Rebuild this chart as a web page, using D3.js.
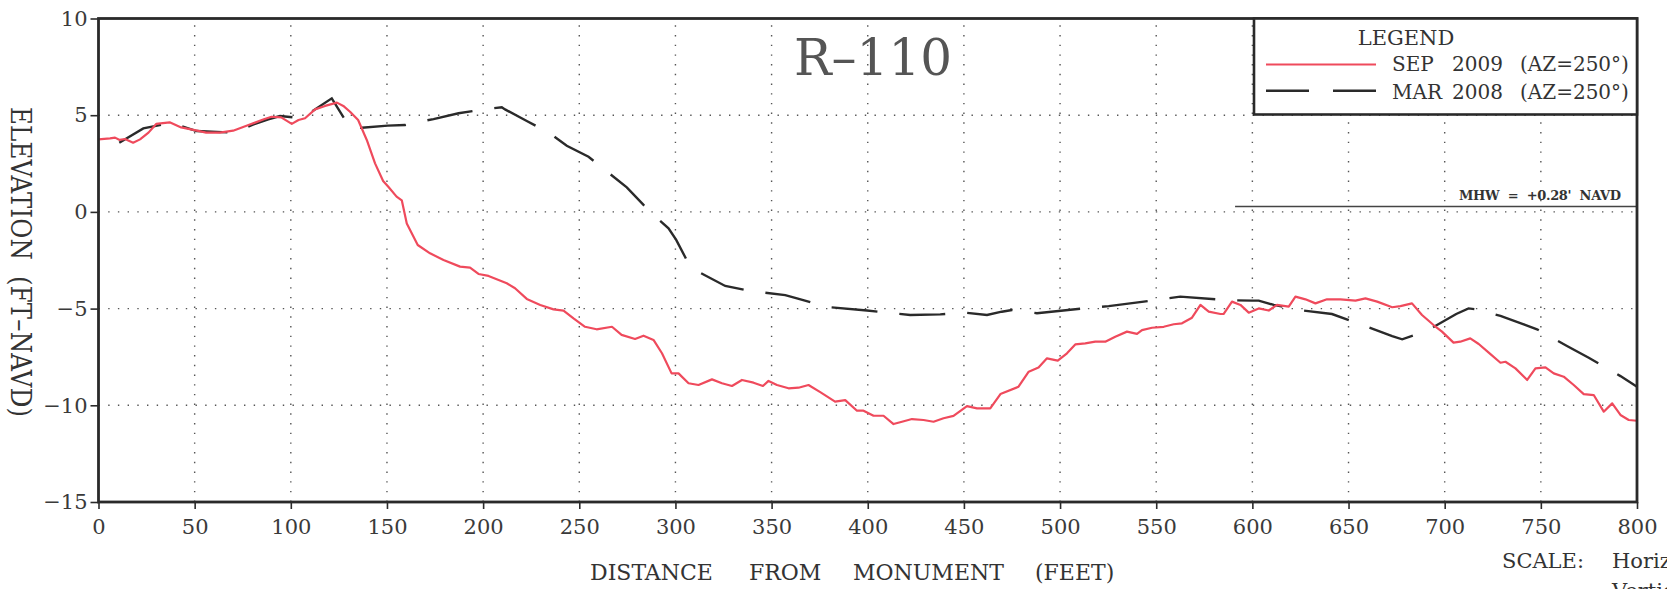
<!DOCTYPE html>
<html>
<head>
<meta charset="utf-8">
<script src="https://cdn.jsdelivr.net/npm/d3@7"></script>
<style>
  html, body { margin: 0; padding: 0; background: #fff; overflow: hidden; }
  text { font-family: "DejaVu Serif", "Liberation Serif", serif; fill: #333; }
</style>
</head>
<body>
<svg id="chart" width="1667" height="589"></svg>
<script>
// ---- data ----
const xTicks = [0, 50, 100, 150, 200, 250, 300, 350, 400, 450, 500, 550, 600, 650, 700, 750, 800];
const yTicks = [-15, -10, -5, 0, 5, 10];
const xGrid = [50, 100, 150, 200, 250, 300, 350, 400, 450, 500, 550, 600, 650, 700, 750];
const yGrid = [-10, -5, 0, 5];
const mhwElevation = 0.28;
const mhwStart = 591;

const sep2009 = [
  [0,3.75],[6,3.8],[8.6,3.84],[11,3.72],[13.8,3.77],[18,3.58],[21.6,3.75],[26,4.1],[30,4.55],[37,4.63],
  [43,4.37],[50,4.23],[56,4.1],[63,4.1],[70,4.2],[78,4.49],[86,4.79],[90,4.92],[95,4.89],[100.5,4.55],
  [104,4.75],[107.4,4.84],[112.6,5.3],[117.8,5.48],[124,5.65],[127.3,5.48],[130.8,5.18],[135,4.75],[139.5,3.72],[143.8,2.51],
  [148,1.6],[150.7,1.3],[155,0.79],[157.7,0.6],[160.3,-0.6],[166,-1.71],[172.4,-2.14],[179.4,-2.49],[188,-2.83],[193.2,-2.88],
  [197.6,-3.21],[202.8,-3.31],[212.3,-3.69],[216.6,-3.95],[222.7,-4.5],[229.7,-4.81],[236.6,-5.04],[241.8,-5.1],[247,-5.5],[253,-5.94],
  [259,-6.07],[267,-5.94],[272,-6.36],[279,-6.57],[283.4,-6.4],[288.6,-6.62],[293,-7.31],[298,-8.35],[301.6,-8.35],[306.8,-8.86],
  [312,-8.95],[319,-8.66],[324.2,-8.86],[329.4,-9.0],[334.6,-8.69],[340.6,-8.83],[345.5,-9.0],[348.4,-8.74],[352.8,-8.95],[358.8,-9.12],
  [364,-9.09],[369.2,-8.95],[375.3,-9.32],[383,-9.81],[388.3,-9.73],[394.4,-10.28],[397.8,-10.28],[403,-10.54],[408.2,-10.54],[413.4,-10.97],
  [417.8,-10.85],[423,-10.71],[429,-10.76],[434.2,-10.85],[439.4,-10.67],[444.6,-10.55],[451.6,-10.04],[456.8,-10.16],[463.7,-10.16],[469,-9.42],
  [478.4,-9.04],[483.7,-8.26],[488.8,-8.04],[493.2,-7.57],[498.8,-7.69],[503.6,-7.31],[507.9,-6.85],[513.1,-6.8],[518.3,-6.71],[523.5,-6.71],
  [528.7,-6.45],[534.8,-6.19],[540,-6.31],[542.6,-6.11],[547.8,-5.99],[553.9,-5.94],[559.1,-5.81],[563.4,-5.76],[568.6,-5.47],[573,-4.81],
  [577.3,-5.16],[583.4,-5.28],[585,-5.28],[589.4,-4.64],[593.8,-4.81],[598.1,-5.21],[603.3,-4.99],[608.5,-5.1],[612.8,-4.81],[618.9,-4.9],
  [622.4,-4.38],[627.6,-4.52],[632.8,-4.73],[638.8,-4.52],[645.8,-4.52],[653.6,-4.59],[658.8,-4.47],[664.9,-4.64],[672.7,-4.93],[677,-4.87],
  [683,-4.73],[688.2,-5.33],[694.2,-5.85],[698.6,-6.19],[704.6,-6.76],[708.1,-6.71],[713.3,-6.54],[717.7,-6.83],[722.9,-7.28],[729,-7.8],
  [731.6,-7.75],[736.8,-8.09],[742.9,-8.69],[747.2,-8.09],[752.4,-8.04],[756.7,-8.35],[761.9,-8.52],[767.1,-8.95],[772.3,-9.42],[777.5,-9.47],
  [782.7,-10.33],[787.1,-9.9],[791.4,-10.5],[795.7,-10.76],[800,-10.8]
];

const mar2008 = [
  [10.8,3.58],[23.3,4.32],[38,4.61],[51,4.18],[70,4.1],[80,4.5],[88.3,4.79],[94.4,4.96],[105.7,4.84],[121.3,5.87],
  [130.8,4.35],[136.9,4.35],[150.4,4.46],[159.4,4.49],[167.2,4.66],[174.2,4.8],[187.2,5.1],[200.2,5.3],[209.7,5.41],[211.4,5.3],
  [222.7,4.7],[234.8,4.06],[243.5,3.42],[254.8,2.85],[274.7,1.27],[283.4,0.36],[288.6,-0.16],[296.4,-0.85],[300.4,-1.45],[306.3,-2.57],
  [308.6,-2.92],[325.9,-3.83],[338.9,-4.09],[357.1,-4.3],[363.2,-4.47],[375.3,-4.81],[380.5,-4.93],[399.6,-5.1],[413.1,-5.24],[422.1,-5.33],
  [437.7,-5.3],[450.7,-5.21],[462,-5.33],[469.7,-5.16],[475,-5.07],[488,-5.24],[512.3,-4.99],[525.3,-4.87],[549.6,-4.56],[562.5,-4.38],
  [586.8,-4.56],[599.8,-4.59],[603.3,-4.59],[611.1,-4.81],[624.1,-5.07],[641.4,-5.28],[660.5,-5.97],[672.7,-6.42],[677.9,-6.59],[688.2,-6.24],
  [695.1,-5.9],[706,-5.28],[712.4,-4.99],[716.7,-5.04],[729,-5.38],[741.1,-5.81],[748,-6.07],[763.6,-6.93],[774.9,-7.54],[791.4,-8.49],
  [800,-9.04]
];

const titleText = "R\u2013110";
const legendTitle = "LEGEND";
const seriesLabels = [["SEP", "2009", "(AZ=250\u00B0)"], ["MAR", "2008", "(AZ=250\u00B0)"]];
const xTitleWords = ["DISTANCE", "FROM", "MONUMENT", "(FEET)"];
const yTitleText = "ELEVATION\u00A0\u00A0(FT\u2013NAVD)";
const mhwLabel = "MHW\u00A0\u00A0=\u00A0\u00A0+0.28'\u00A0\u00A0NAVD";

// ---- layout ----
const svg = d3.select("#chart");
const L = 98.5, R = 1637, T = 18.5, B = 502;
const x = d3.scaleLinear().domain([0, 800]).range([L, R]);
const y = d3.scaleLinear().domain([-15, 10]).range([B, T]);
const red = "#ef4a5c";
const ink = "#2a2a2a";

// grid
const grid = svg.append("g").attr("stroke", "#555").attr("stroke-width", 1.4)
  .attr("stroke-dasharray", "1.4,8.3");
grid.selectAll("line.v").data(xGrid).join("line")
  .attr("x1", d => x(d)).attr("x2", d => x(d)).attr("y1", B).attr("y2", T);
grid.selectAll("line.h").data(yGrid).join("line")
  .attr("y1", d => y(d)).attr("y2", d => y(d)).attr("x1", L).attr("x2", R);

// MHW line
svg.append("line")
  .attr("x1", x(mhwStart)).attr("x2", x(800))
  .attr("y1", y(mhwElevation)).attr("y2", y(mhwElevation))
  .attr("stroke", "#444").attr("stroke-width", 1.3);
svg.append("text").attr("x", 1621).attr("y", y(mhwElevation) - 6)
  .attr("text-anchor", "end").attr("font-size", 13).attr("font-weight", "bold")
  .attr("textLength", 162).style("fill", "#333")
  .text(mhwLabel);

// lines
const line = d3.line().x(d => x(d[0])).y(d => y(d[1]));
svg.append("path").datum(mar2008).attr("d", line)
  .attr("fill", "none").attr("stroke", ink).attr("stroke-width", 2.4)
  .attr("stroke-dasharray", "46,22");
svg.append("path").datum(sep2009).attr("d", line)
  .attr("fill", "none").attr("stroke", red).attr("stroke-width", 2.2)
  .attr("stroke-linejoin", "round");

// axes
const fmt = d => d3.format("d")(d).replace("-", "\u2212");
const ax = svg.append("g").attr("transform", `translate(0,${B})`)
  .call(d3.axisBottom(x).tickValues(xTicks).tickSize(7).tickPadding(10).tickFormat(fmt));
const ay = svg.append("g").attr("transform", `translate(${L},0)`)
  .call(d3.axisLeft(y).tickValues(yTicks).tickSize(8).tickPadding(3).tickFormat(fmt));
[ax, ay].forEach(g => {
  g.select(".domain").remove();
  g.selectAll(".tick line").attr("stroke", ink).attr("stroke-width", 1.6);
  g.selectAll(".tick text").attr("font-size", 21).attr("font-family", "DejaVu Serif").style("fill", "#3a3a3a");
});

// frame
svg.append("rect").attr("x", L).attr("y", T).attr("width", R - L).attr("height", B - T)
  .attr("fill", "none").attr("stroke", ink).attr("stroke-width", 2.8);

// title
svg.append("text").attr("x", 873).attr("y", 75).attr("text-anchor", "middle")
  .attr("font-size", 50).style("fill", "#555").text(titleText);

// legend
const lg = svg.append("g");
lg.append("rect").attr("x", 1254).attr("y", T).attr("width", R - 1254).attr("height", 114.5 - T)
  .attr("fill", "#fff").attr("stroke", ink).attr("stroke-width", 2.6);
lg.append("text").attr("x", 1406).attr("y", 45).attr("text-anchor", "middle")
  .attr("font-size", 21).text(legendTitle);
const rowsY = [64.5, 90.7];
const baseY = [70.7, 99.3];
lg.append("line").attr("x1", 1266).attr("x2", 1376).attr("y1", rowsY[0]).attr("y2", rowsY[0])
  .attr("stroke", red).attr("stroke-width", 2.2);
lg.append("line").attr("x1", 1266).attr("x2", 1376).attr("y1", rowsY[1]).attr("y2", rowsY[1])
  .attr("stroke", ink).attr("stroke-width", 2.4).attr("stroke-dasharray", "43,24");
const wordX = [1392, 1452, 1520];
seriesLabels.forEach((words, i) => {
  const t = lg.append("text").attr("y", baseY[i]).attr("font-size", 20);
  words.forEach((w, j) => t.append("tspan").attr("x", wordX[j]).text(w));
});

// axis titles
const xt = svg.append("text").attr("y", 580).attr("font-size", 22);
const xWordPos = [590, 749, 853, 1035];
xTitleWords.forEach((w, i) => xt.append("tspan").attr("x", xWordPos[i]).text(w));

svg.append("text").attr("transform", "translate(11,262) rotate(90) scale(1,1.12)")
  .attr("text-anchor", "middle").attr("font-size", 24.5).attr("textLength", 310).text(yTitleText);

// scale note (cut off at the page edge as in the original)
svg.append("text").attr("x", 1502).attr("y", 568).attr("font-size", 21).text("SCALE:");
svg.append("text").attr("x", 1612).attr("y", 568).attr("font-size", 21).text("Horizontal");
svg.append("text").attr("x", 1612).attr("y", 598).attr("font-size", 21).text("Vertical");
</script>
</body>
</html>
